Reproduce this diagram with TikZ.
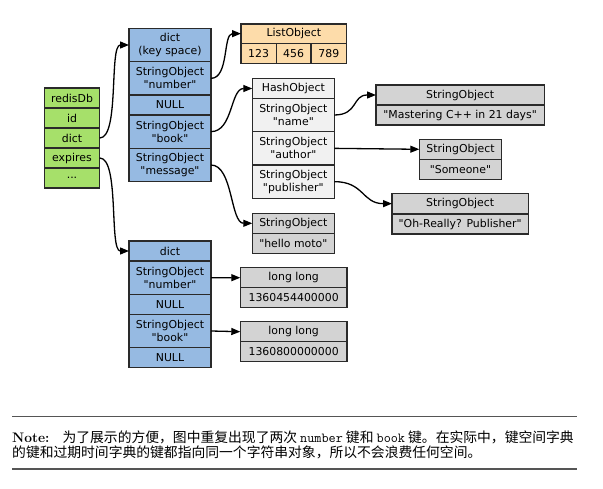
\documentclass[tikz,border=0pt]{standalone}
\usepackage{fontspec}
\newfontfamily\dv{DejaVu Sans}
\newfontfamily\cjk{Noto Sans CJK SC}
\usetikzlibrary{arrows.meta}
\definecolor{bordercol}{HTML}{2A2A2A}
\definecolor{greencol}{HTML}{A6E06A}
\definecolor{bluecol}{HTML}{96BAE2}
\definecolor{orangecol}{HTML}{FDDCAA}
\definecolor{lightcol}{HTML}{F1F1F1}
\definecolor{graycol}{HTML}{D3D3D3}
\definecolor{rulecol}{HTML}{555555}
\tikzset{
  cellbox/.style={draw=bordercol, line width=1.1pt, anchor=north west, inner sep=0pt, outer sep=0pt,
    align=center, font=\dv\fontsize{10.9}{13}\selectfont, text=black},
  link/.style={line width=1.3pt, -{Triangle[length=9pt,width=7pt]}},
  rulestyle/.style={draw=rulecol, line width=1.2pt}
}
\newcommand{\mkcell}[7]{\node[cellbox,fill=#6,minimum width=#4pt,minimum height=#5pt] (#1) at (#2,#3) {#7};}
\begin{document}
\begin{tikzpicture}[x=1pt,y=-1pt]
\useasboundingbox[fill=white] (0,0) rectangle (603,489);
% redisDb
\mkcell{rdb}{44.3}{88}{55.4}{20}{greencol}{redisDb}
\mkcell{rid}{44.3}{108}{55.4}{20}{greencol}{id}
\mkcell{rdict}{44.3}{128}{55.4}{20}{greencol}{dict}
\mkcell{rexp}{44.3}{148}{55.4}{20}{greencol}{expires}
\mkcell{rdots}{44.3}{168}{55.4}{20}{greencol}{...}
% key space dict
\mkcell{d0}{129}{28.3}{82}{33.4}{bluecol}{dict\\(key space)}
\mkcell{dnum}{129}{61.7}{82}{33.3}{bluecol}{StringObject\\"number"}
\mkcell{dnull}{129}{95}{82}{20}{bluecol}{NULL}
\mkcell{dbook}{129}{115}{82}{33.3}{bluecol}{StringObject\\"book"}
\mkcell{dmsg}{129}{148.3}{82}{33.4}{bluecol}{StringObject\\"message"}
% ListObject
\mkcell{lh}{241}{24}{105.7}{19.3}{orangecol}{ListObject}
\mkcell{l1}{241}{43.3}{35.3}{20}{orangecol}{123}
\mkcell{l2}{276.3}{43.3}{34.7}{20}{orangecol}{456}
\mkcell{l3}{311}{43.3}{35.7}{20}{orangecol}{789}
% HashObject
\mkcell{hh}{252.3}{78.7}{82}{19.6}{lightcol}{HashObject}
\mkcell{hname}{252.3}{98.3}{82}{33.4}{lightcol}{StringObject\\"name"}
\mkcell{hauth}{252.3}{131.7}{82}{33.3}{lightcol}{StringObject\\"author"}
\mkcell{hpub}{252.3}{165}{82}{33.3}{lightcol}{StringObject\\"publisher"}
% hello moto
\mkcell{mh}{252.3}{213.3}{82}{20}{graycol}{StringObject}
\mkcell{mv}{252.3}{233.3}{82}{20}{graycol}{"hello moto"}
% Mastering
\mkcell{ah}{376}{85}{168.3}{20}{graycol}{StringObject}
\mkcell{av}{376}{105}{168.3}{20}{graycol}{"Mastering C++ in 21 days"}
% Someone
\mkcell{bh}{419.3}{139.3}{82.4}{20}{graycol}{StringObject}
\mkcell{bv}{419.3}{159.3}{82.4}{20}{graycol}{"Someone"}
% Oh-Really
\mkcell{ch}{392}{193.3}{136.3}{20.7}{graycol}{StringObject}
\mkcell{cv}{392}{214}{136.3}{20}{graycol}{"Oh-Really? Publisher"}
% expires dict
\mkcell{e0}{129}{241}{82}{20}{bluecol}{dict}
\mkcell{enum}{129}{261}{82}{33.3}{bluecol}{StringObject\\"number"}
\mkcell{enull}{129}{294.3}{82}{20}{bluecol}{NULL}
\mkcell{ebook}{129}{314.3}{82}{33.4}{bluecol}{StringObject\\"book"}
\mkcell{enull2}{129}{347.7}{82}{20}{bluecol}{NULL}
% long long
\mkcell{ph}{240.3}{267.7}{106.7}{20}{graycol}{long long}
\mkcell{pv}{240.3}{287.7}{106.7}{20}{graycol}{1360454400000}
\mkcell{qh}{240.3}{321.7}{106.7}{20}{graycol}{long long}
\mkcell{qv}{240.3}{341.7}{106.7}{20}{graycol}{1360800000000}
% connectors
\draw[link] (rdict.east) .. controls +(20,0) and +(-20,0) .. (d0.west);
\draw[link] (rexp.east) .. controls +(20,0) and +(-20,0) .. (e0.west);
\draw[link] (dnum.east) .. controls +(18,0) and +(-18,0) .. (lh.west);
\draw[link] (dbook.east) .. controls +(22,0) and +(-22,0) .. (hh.west);
\draw[link] (dmsg.east) .. controls +(22,0) and +(-22,0) .. (mh.west);
\draw[link] (hname.east) .. controls +(24,0) and +(-24,0) .. (ah.west);
\draw[link] (hauth.east) -- (bh.west);
\draw[link] (hpub.east) .. controls +(30,0) and +(-30,0) .. (ch.west);
\draw[link] (enum.east) -- (ph.west);
\draw[link] (ebook.east) -- (qh.west);
% note
\draw[rulestyle] (12,416.7) -- (577,416.7);
\draw[rulestyle] (12,469) -- (577,469);
\node[anchor=base west, inner sep=0pt] (n1) at (12,442) {\fontsize{13.8}{16}\selectfont\textbf{Note:}\hspace{13pt}\cjk 为了展示的方便，图中重复出现了两次 \texttt{number} 键和 \texttt{book} 键。在实际中，键空间字典};
\node[anchor=base west, inner sep=0pt] (n2) at (12,457) {\fontsize{13.8}{16}\selectfont\cjk 的键和过期时间字典的键都指向同一个字符串对象，所以不会浪费任何空间。};
\end{tikzpicture}
\end{document}
